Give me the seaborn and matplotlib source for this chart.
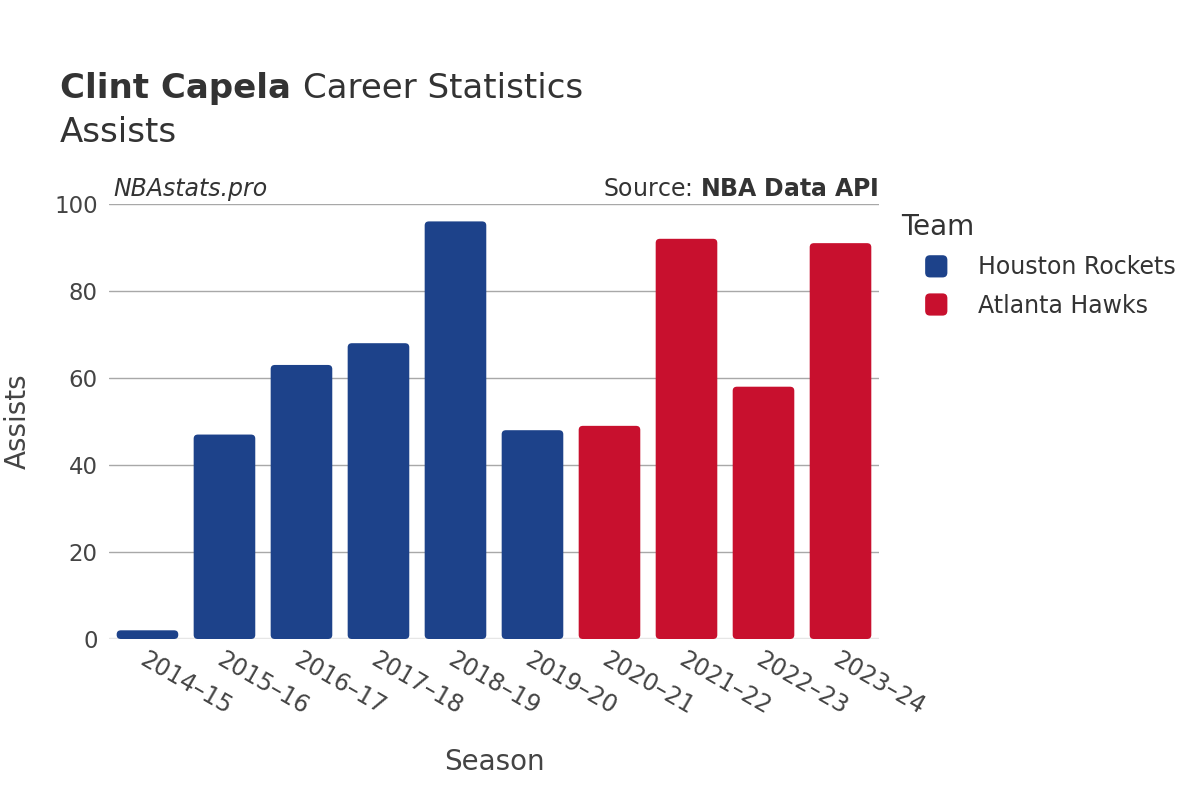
#!/usr/bin/env python
# coding: utf-8

import pandas as pd
import matplotlib
matplotlib.use("Agg")
import matplotlib.pyplot as plt
from matplotlib.patches import FancyBboxPatch, Patch
from matplotlib.legend_handler import HandlerPatch
import seaborn as sns

# Chart data
seasons = ["2014–15", "2015–16", "2016–17", "2017–18", "2018–19",
           "2019–20", "2020–21", "2021–22", "2022–23", "2023–24"]
assists = [2, 47, 63, 68, 96, 48, 49, 92, 58, 91]
teams = ["Houston Rockets"] * 6 + ["Atlanta Hawks"] * 4
team_colors = {"Houston Rockets": "#1D428A", "Atlanta Hawks": "#C8102E"}

TEXT = "#333333"


class RoundSquareHandler(HandlerPatch):
    # legend key drawn as a small rounded square, pushed to the right of its box
    def create_artists(self, legend, orig_handle, xdescent, ydescent,
                       width, height, fontsize, trans):
        size = 16
        x0 = -xdescent + width - size - 0.5
        y0 = -ydescent + (height - size) / 2
        p = FancyBboxPatch((x0, y0), size, size,
                           boxstyle="round,pad=0,rounding_size=3.5",
                           facecolor=orig_handle.get_facecolor(),
                           edgecolor="none", transform=trans)
        return [p]


def build_frame():
    return pd.DataFrame({"Season": seasons, "Assists": assists, "Team": teams})


def round_bars(ax):
    # swap the plain rectangles for rounded ones
    for bar in list(ax.patches):
        x, y = bar.get_x(), bar.get_y()
        w, h = bar.get_width(), bar.get_height()
        if h <= 0:
            continue
        rounded = FancyBboxPatch((x, y), w, h,
                                 boxstyle="round,pad=0,rounding_size=0.055",
                                 mutation_aspect=17,
                                 facecolor=bar.get_facecolor(),
                                 edgecolor="none", zorder=bar.get_zorder())
        bar.remove()
        ax.add_patch(rounded)


def main():
    data = build_frame()

    sns.set_theme(style="white")
    plt.rcParams["font.family"] = ["DejaVu Sans"]

    fig = plt.figure(figsize=(12, 8), dpi=100)
    ax = fig.add_axes([0.0908, 0.20125, 0.6417, 0.54375])

    sns.barplot(data=data, x="Season", y="Assists", hue="Team",
                palette=team_colors, dodge=False, width=0.8,
                saturation=1, legend=False, ax=ax, zorder=3)
    round_bars(ax)

    ax.set_ylim(0, 100)
    ax.set_xlim(-0.5, len(seasons) - 0.5)
    ax.set_yticks([0, 20, 40, 60, 80, 100])
    ax.yaxis.grid(True, color="#a8a8a8", linewidth=1, zorder=0)
    ax.axhline(0, color="#e6e6e6", linewidth=2.5, zorder=2)
    for side in ["top", "right", "left", "bottom"]:
        ax.spines[side].set_visible(False)

    ax.tick_params(axis="y", labelsize=16.5, colors="#444444", length=0, pad=8)
    ax.tick_params(axis="x", labelsize=17, colors="#444444", length=0, pad=6)
    for lbl in ax.get_xticklabels():
        lbl.set_rotation(-30)
        lbl.set_ha("left")
        lbl.set_rotation_mode("anchor")

    ax.set_xlabel("Season", fontsize=20, color="#444444")
    ax.xaxis.set_label_coords(0.5, -0.25)
    ax.set_ylabel("Assists", fontsize=20, color="#444444")
    ax.yaxis.set_label_coords(-0.1, 0.5)

    # titles
    t1 = fig.text(0.05, 0.878, "Clint Capela", fontsize=24.5, fontweight="bold",
                  color=TEXT, va="baseline")
    fig.canvas.draw()
    bb = t1.get_window_extent()
    fig.text(bb.x1 / fig.bbox.width + 0.01, 0.878, "Career Statistics",
             fontsize=24.5, color=TEXT, va="baseline")
    fig.text(0.05, 0.823, "Assists", fontsize=24.5, color=TEXT, va="baseline")

    ax.text(0.006, 1.008, "NBAstats.pro", transform=ax.transAxes,
            fontsize=17, style="italic", color=TEXT, va="bottom", ha="left")
    ax.text(0.999, 1.008, r"Source: $\bf{NBA\ Data\ API}$",
            transform=ax.transAxes, fontsize=17, color=TEXT,
            va="bottom", ha="right")

    # legend
    handles = [Patch(facecolor=team_colors[t]) for t in team_colors]
    leg = fig.legend(handles, list(team_colors), title="Team",
                     loc="upper left", bbox_to_anchor=(0.733, 0.76),
                     frameon=False, fontsize=17, title_fontsize=20,
                     handler_map={Patch: RoundSquareHandler()},
                     handlelength=2.0, handleheight=1.0,
                     handletextpad=1.25, labelspacing=0.6)
    leg._legend_box.align = "left"
    for t in leg.get_texts():
        t.set_color(TEXT)
    leg.get_title().set_color(TEXT)

    fig.savefig("out.png", dpi=100, facecolor="white")


if __name__ == "__main__":
    main()
